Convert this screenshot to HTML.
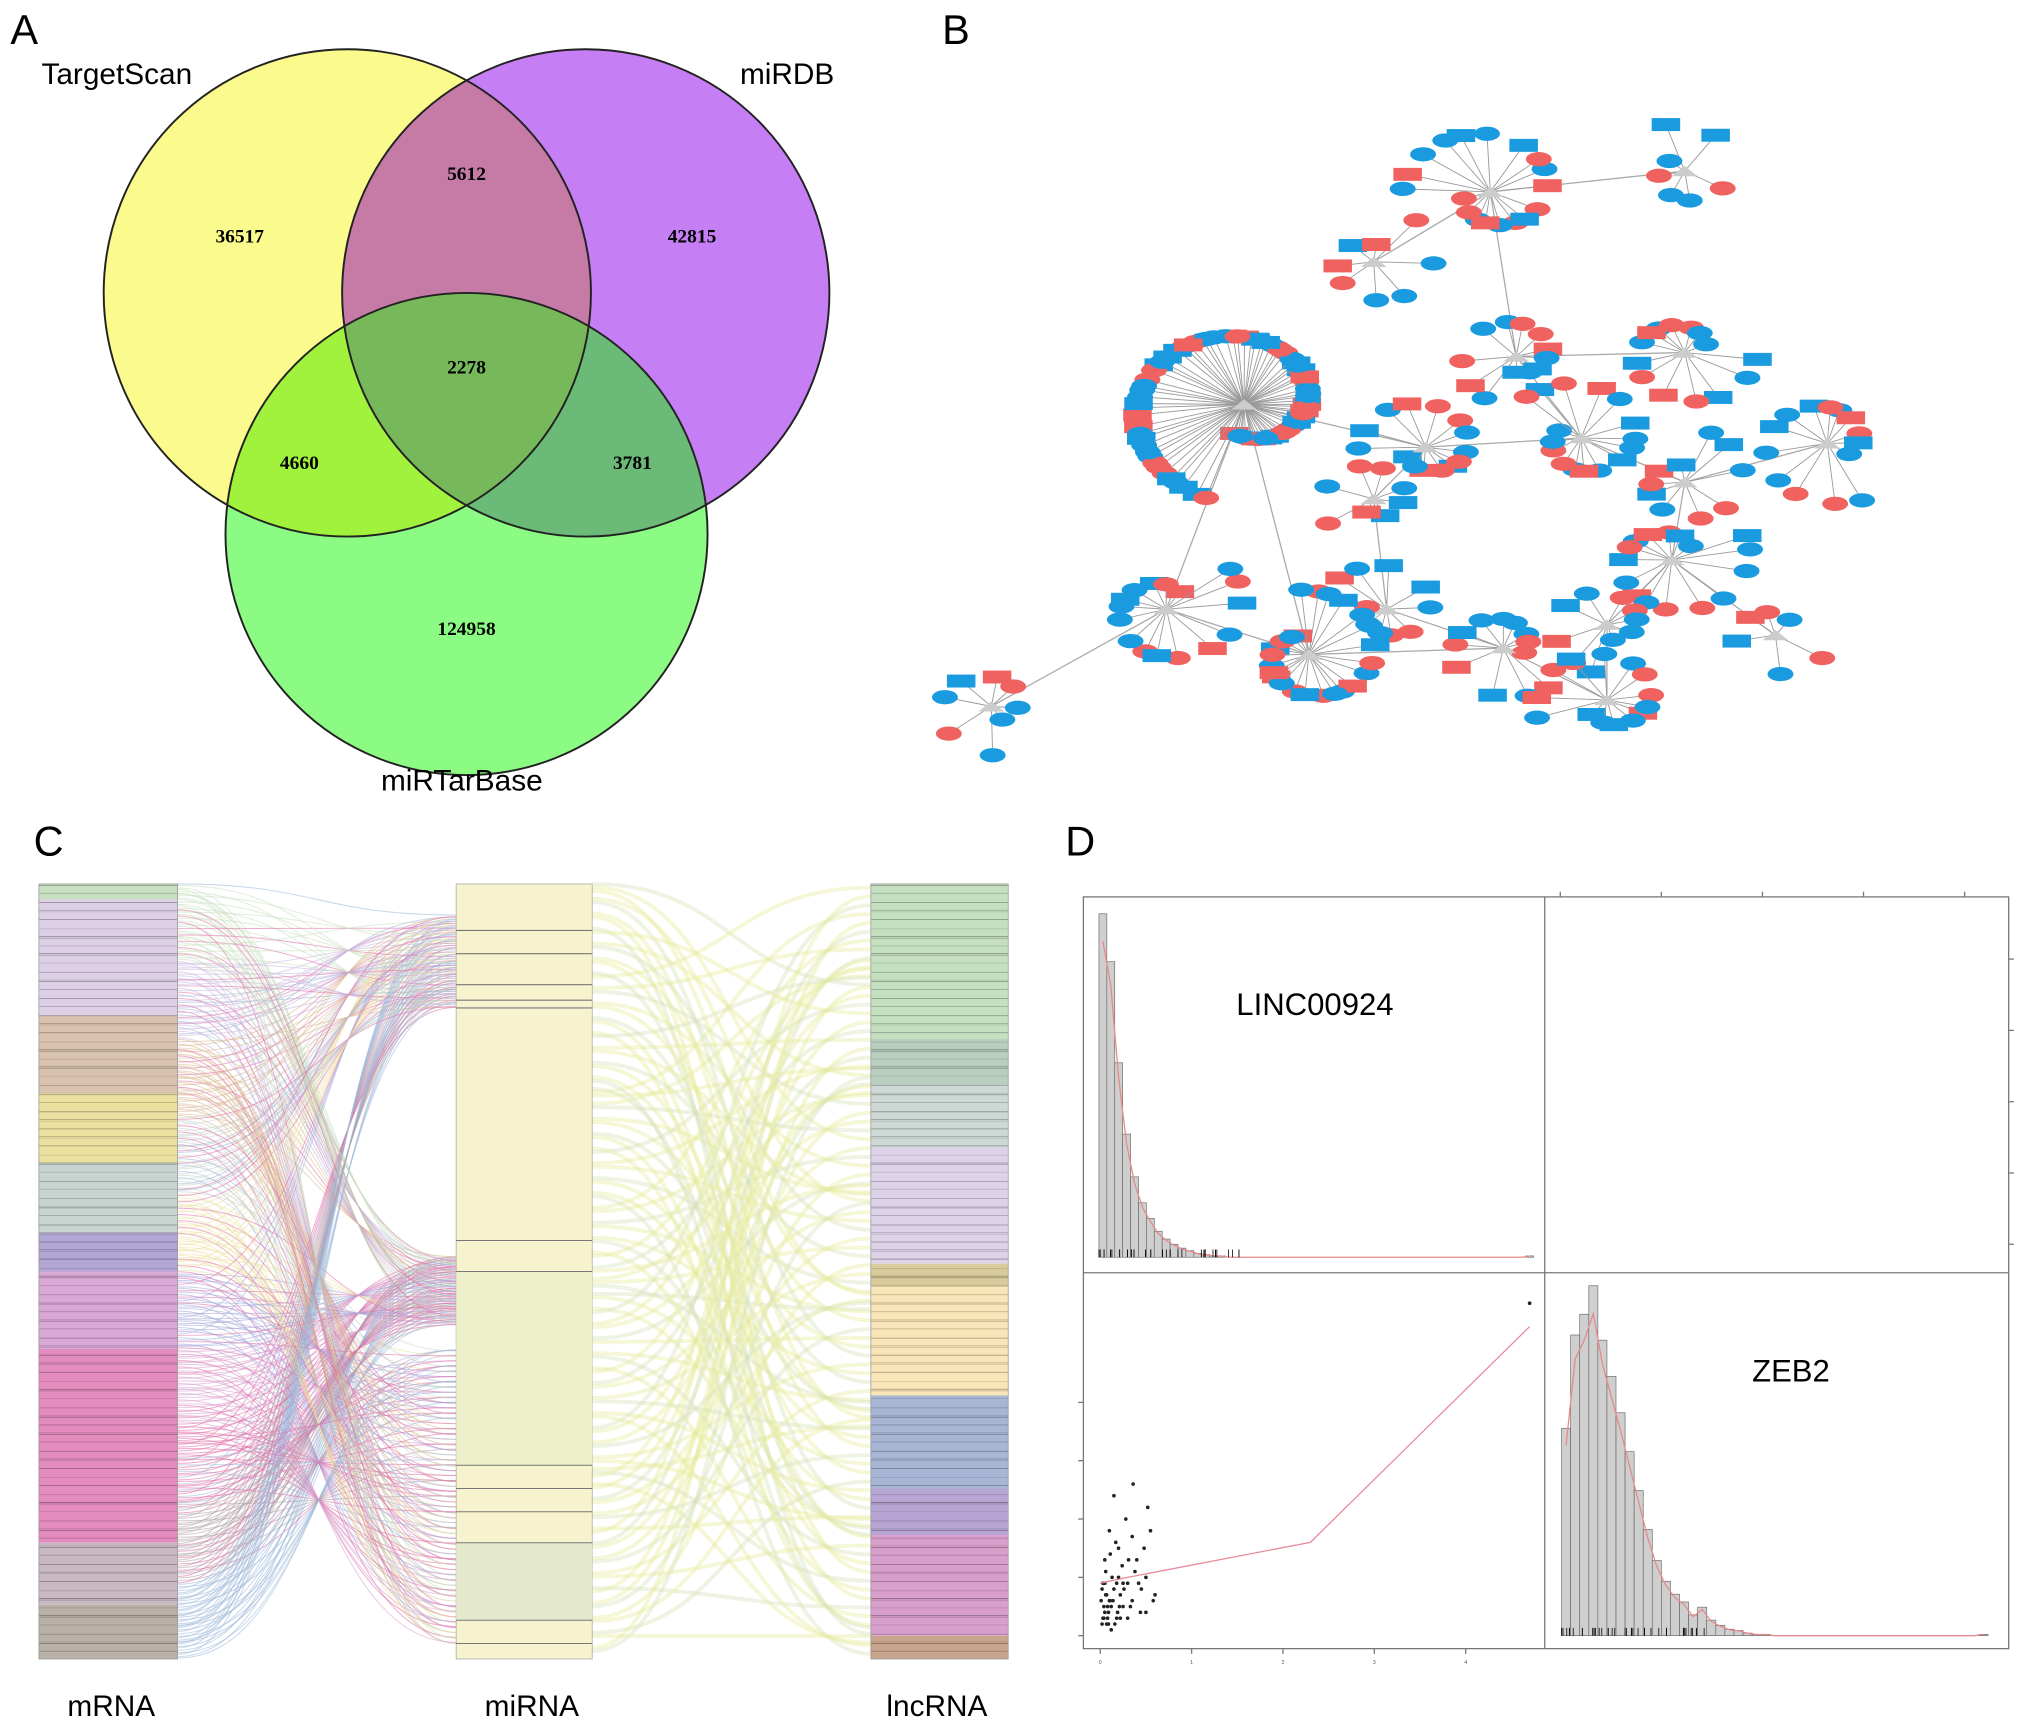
<!DOCTYPE html>
<html><head><meta charset="utf-8"><style>
html,body{margin:0;padding:0;background:#fff;}
svg{display:block;font-family:"Liberation Sans",sans-serif;}
</style></head><body>
<svg id="fig" width="2032" height="1729" viewBox="0 0 1568 1334" preserveAspectRatio="none">
<rect width="1568" height="1334" fill="#fff"/>
<text x="8" y="34" font-size="32">A</text>
<text x="727" y="34" font-size="32">B</text>
<text x="26" y="660" font-size="32">C</text>
<text x="822" y="660" font-size="32">D</text>

<g id="venn">
<defs>
<clipPath id="cY"><circle cx="268" cy="226" r="188"/></clipPath>
<clipPath id="cP"><circle cx="452" cy="226" r="188"/></clipPath>
<clipPath id="cG"><circle cx="360" cy="412" r="186"/></clipPath>
</defs>
<circle cx="268" cy="226" r="188" fill="#fbfa8c"/>
<circle cx="452" cy="226" r="188" fill="#c57ef3"/>
<circle cx="360" cy="412" r="186" fill="#8cfb83"/>
<g clip-path="url(#cY)"><circle cx="452" cy="226" r="188" fill="#c57ba6"/><circle cx="360" cy="412" r="186" fill="#a0f23c"/></g>
<g clip-path="url(#cP)"><circle cx="360" cy="412" r="186" fill="#6cba77"/></g>
<g clip-path="url(#cY)"><g clip-path="url(#cP)"><circle cx="360" cy="412" r="186" fill="#77b95a"/></g></g>
<circle cx="268" cy="226" r="188" fill="none" stroke="#222" stroke-width="1.5"/>
<circle cx="452" cy="226" r="188" fill="none" stroke="#222" stroke-width="1.5"/>
<circle cx="360" cy="412" r="186" fill="none" stroke="#222" stroke-width="1.5"/>
<g font-family="Liberation Serif,serif" font-weight="bold" font-size="15" text-anchor="middle">
<text x="185" y="187">36517</text><text x="360" y="139">5612</text><text x="534" y="187">42815</text>
<text x="360" y="288">2278</text><text x="231" y="362">4660</text><text x="488" y="362">3781</text>
<text x="360" y="490">124958</text></g>
<text x="32" y="65" font-size="23">TargetScan</text>
<text x="571" y="65" font-size="23">miRDB</text>
<text x="294" y="610" font-size="23">miRTarBase</text>
</g>

<g id="network"></g>
<g id="sankey"></g>
<g id="pairs"></g>
</svg>
<script>
const NS="http://www.w3.org/2000/svg";
function mk(p,t,a){const e=document.createElementNS(NS,t);for(const k in a)e.setAttribute(k,a[k]);p.appendChild(e);return e;}

const histTopCounts=[265,228,150,95,62,42,30,20,14,10,7,5,3,2,1,1,0,0,0,0,0,0,0,0,0,0,0,0,0,0,0,0,0,0,0,0,0,0,0,0,0,0,0,0,0,0,0,0,0,0,0,0,0,0,1];
const histBotCounts=[160,232,248,270,228,200,172,142,112,82,58,42,32,26,16,22,12,8,5,4,2,1,1,0,0,0,0,0,0,0,0,0,0,0,0,0,0,0,0,0,0,0,0,0,0,0,1];
const scatterX=[0.02,0.05,0.08,0.1,0.12,0.15,0.18,0.2,0.22,0.25,0.3,0.35,0.4,0.45,0.5,0.55,0.6,0.03,0.06,0.09,0.11,0.14,0.17,0.19,0.24,0.28,0.33,0.38,0.42,0.48,0.52,0.58,0.04,0.07,0.13,0.16,0.21,0.26,0.31,0.36,0.44,0.5,0.01,0.1,0.2,0.3,0.15,0.25,0.35,0.05,0.12,0.18,0.08,0.22,0.04,0.06,0.09,0.02,0.07,0.11,0.03,0.05,4.7];
const scatterY=[0.2,0.4,0.3,0.6,0.5,0.8,0.3,1.0,0.7,0.5,0.9,0.6,1.3,0.8,0.4,1.8,0.7,0.9,1.1,0.2,1.4,0.6,1.6,0.4,1.2,2.0,0.5,1.1,0.9,1.5,2.2,0.6,0.3,0.7,1.0,0.2,0.5,0.8,1.3,2.6,0.4,1.0,0.6,1.8,1.5,0.3,2.4,0.9,1.7,1.3,0.1,0.9,0.5,0.3,0.5,0.7,0.4,0.8,0.2,0.6,0.3,0.9,5.7];
const loessX=[0,0.3,2.3,4.7];
const loessY=[0.9,1.0,1.6,5.3];

const mrnaBands=[["#c8e0c0",0,0.02],["#ddd0e6",0.02,0.17],["#d9c3b0",0.17,0.27],["#ece0a0",0.27,0.36],["#c7d4cf",0.36,0.45],["#b1a6d4",0.45,0.5],["#d9a8d6",0.5,0.6],["#e48cbf",0.6,0.85],["#c9b9c2",0.85,0.93],["#b9b0a8",0.93,1]];
const lncBands=[["#c5e0c0",0,0.2],["#b8cfc0",0.2,0.26],["#ced9d5",0.26,0.34],["#ddd3e9",0.34,0.49],["#d9cb9c",0.49,0.52],["#f9e6b8",0.52,0.66],["#a8b6d6",0.66,0.78],["#b7a6d4",0.78,0.84],["#d89fcc",0.84,0.97],["#c8a58c",0.97,1]];
const mirnaLines=[0.06,0.09,0.13,0.15,0.16,0.46,0.5,0.75,0.78,0.81,0.85,0.95,0.98];

const P=document.getElementById('pairs');
mk(P,'rect',{x:836,y:692,width:714,height:580,fill:'none',stroke:'#777','stroke-width':1});
mk(P,'line',{x1:1192,y1:692,x2:1192,y2:1272,stroke:'#777'});
mk(P,'line',{x1:836,y1:982,x2:1550,y2:982,stroke:'#777'});
function histo(counts,x0,bw,base,scale,name){
 counts.forEach((c,i)=>{if(c<=0)return;
  const r=mk(P,'rect',{x:x0+i*bw,y:base-c*scale,width:bw,height:c*scale,fill:'#cfcfcf',stroke:'#666','stroke-width':0.5});
  
  });
 let d='';counts.forEach((c,i)=>{d+=(i?'L':'M')+(x0+i*bw+bw/2)+','+(base-c*scale*0.92);});
 mk(P,'path',{d:d,fill:'none',stroke:'#e88a8a','stroke-width':1});
 for(let i=0;i<40;i++){const x=x0+ (i*i)%Math.round(counts.length*bw*0.35);mk(P,'line',{x1:x,y1:base,x2:x,y2:base-6,stroke:'#000','stroke-width':0.6});}
}
histo(histTopCounts,848,6.1,970,1,'histogram-bar-linc00924');
histo(histBotCounts,1205,7,1262,1,'histogram-bar-zeb2');
const t1=mk(P,'text',{x:954,y:783,'font-size':24});t1.textContent='LINC00924';


const t2=mk(P,'text',{x:1352,y:1066,'font-size':24});t2.textContent='ZEB2';


const sx=v=>849+v*70.5, sy=v=>1262-v*45;
scatterX.forEach((v,i)=>{const c=mk(P,'circle',{cx:sx(v),cy:sy(scatterY[i]),r:1.4,fill:'#222'});
 
 });
mk(P,'path',{d:loessX.map((v,i)=>(i?'L':'M')+sx(v)+','+sy(loessY[i])).join(''),fill:'none',stroke:'#e88a9a','stroke-width':1});
[0,1,2,3,4].forEach(k=>{mk(P,'line',{x1:sx(k),y1:1272,x2:sx(k),y2:1276,stroke:'#777'});mk(P,'line',{x1:832,y1:sy(k),x2:836,y2:sy(k),stroke:'#777'});
 const tx=mk(P,'text',{x:sx(k),y:1284,'font-size':4,'text-anchor':'middle',fill:'#555'});tx.textContent=k;});
[0,1,2,3,4].forEach(k=>{mk(P,'line',{x1:1204+k*78,y1:688,x2:1204+k*78,y2:692,stroke:'#777'});mk(P,'line',{x1:1550,y1:740+k*55,x2:1554,y2:740+k*55,stroke:'#777'});});

const S=document.getElementById('sankey');
const top0=682,H=598;
const linkCols=["#c8e0c0","#c9b8e0","#d9b890","#c7d4cf","#ece0a0","#a8a0d8","#d9a0d0","#e070a8","#b0a0a8","#9fb8d8"];
for(let i=0;i<420;i++){
 const a=(i*0.618034)%1, b=(i*0.381966+0.1*(i%7))%1;
 const ya=top0+a*H, yb=top0+(b<0.3?0.04+b*0.4:(b<0.6?0.48+(b-0.3)*0.3:0.6+(b-0.6)*0.95))*H;
 let c=linkCols[Math.min(9,Math.floor(a*10))]; if(i%5===0)c="#e070a8"; if(i%11===0)c="#9fb8d8";
 const x1=137,x2=352;
 mk(S,'path',{d:`M${x1},${ya}C${(x1+x2)/2},${ya} ${(x1+x2)/2},${yb} ${x2},${yb}`,fill:'none',stroke:c,'stroke-width':0.8,'stroke-opacity':0.55});
}
for(let i=0;i<110;i++){
 const a=(i*0.7548)%1, b=(i*0.5698+0.13)%1;
 const ya=top0+a*H, yb=top0+b*H;
 const x1=457,x2=672;
 mk(S,'path',{d:`M${x1},${ya}C${(x1+x2)/2},${ya} ${(x1+x2)/2},${yb} ${x2},${yb}`,fill:'none',stroke:i%3?"#e6ec9a":"#d8e0b8",'stroke-width':3,'stroke-opacity':0.4});
}
function col(x,w,bands,name){
 bands.forEach(b=>{const r=mk(S,'rect',{x:x,y:top0+b[1]*H,width:w,height:(b[2]-b[1])*H,fill:b[0]});
  
  });
 for(let i=0;i<120;i++){const y=top0+((i*0.618)%1)*H;mk(S,'line',{x1:x,y1:y,x2:x+w,y2:y,stroke:'#000','stroke-opacity':0.15+0.2*((i*7)%3)/2,'stroke-width':0.6});}
 mk(S,'rect',{x:x,y:top0,width:w,height:H,fill:'none',stroke:'#999','stroke-width':0.6});
}
col(30,107,mrnaBands,'mrna');
const mr=mk(S,'rect',{x:352,y:top0,width:105,height:H,fill:'#f7f3cf',stroke:'#aaa','stroke-width':0.6});


mk(S,'rect',{x:352,y:top0+0.5*H,width:105,height:0.25*H,fill:'#eef0cc'});
mk(S,'rect',{x:352,y:top0+0.85*H,width:105,height:0.1*H,fill:'#e4e8cc'});
mirnaLines.forEach(v=>mk(S,'line',{x1:352,y1:top0+v*H,x2:457,y2:top0+v*H,stroke:'#777','stroke-width':0.8}));
col(672,106,lncBands,'lncrna');
[["mRNA",52],["miRNA",374],["lncRNA",684]].forEach(l=>{const t=mk(S,'text',{x:l[1],y:1324,'font-size':23});t.textContent=l[0];
 
 });

const N=document.getElementById('network');
const hubs=[[960,312,80,95],[1150,148,18,70],[1300,132,7,50],[1060,202,8,55],[1300,272,14,60],[1410,342,14,65],[1170,275,12,50],[1100,345,14,55],[1220,338,16,60],[1300,372,10,55],[1290,432,16,65],[1160,500,12,55],[1240,482,10,50],[1240,540,14,60],[1070,470,10,50],[1010,505,24,65],[900,470,16,65],[1370,490,6,45],[765,545,8,50],[1060,385,8,45]];
const edges=[[0,7],[7,8],[8,6],[6,1],[1,3],[1,2],[6,4],[8,9],[9,5],[9,10],[10,12],[12,13],[11,15],[15,16],[16,0],[14,19],[19,7],[10,17],[11,14],[13,11],[0,15],[16,18]];
edges.forEach(e=>mk(N,'line',{x1:hubs[e[0]][0],y1:hubs[e[0]][1],x2:hubs[e[1]][0],y2:hubs[e[1]][1],stroke:'#aaa','stroke-width':1}));
let k=0;
hubs.forEach((h,hi)=>{
 for(let i=0;i<h[2];i++){
  const ang=i*2.39996+hi; const rr=h[3]*(0.3+0.7*((i*0.618+0.3)%1));
  const x=h[0]+Math.cos(ang)*rr, y=h[1]+Math.sin(ang)*rr*0.8;
  mk(N,'line',{x1:h[0],y1:h[1],x2:x,y2:y,stroke:'#999','stroke-width':0.7});
  const col=(k%5<2)?'#f0625f':'#1a9be0';
  let n;
  if(k%3===0) n=mk(N,'rect',{x:x-11,y:y-5,width:22,height:10,fill:col});
  else n=mk(N,'ellipse',{cx:x,cy:y,rx:10,ry:5.5,fill:col});
  
  
  k++;
 }
 mk(N,'polygon',{points:`${h[0]-10},${h[1]+4} ${h[0]+10},${h[1]+4} ${h[0]},${h[1]-4}`,fill:'#ccc'});
});
</script>
</body></html>
